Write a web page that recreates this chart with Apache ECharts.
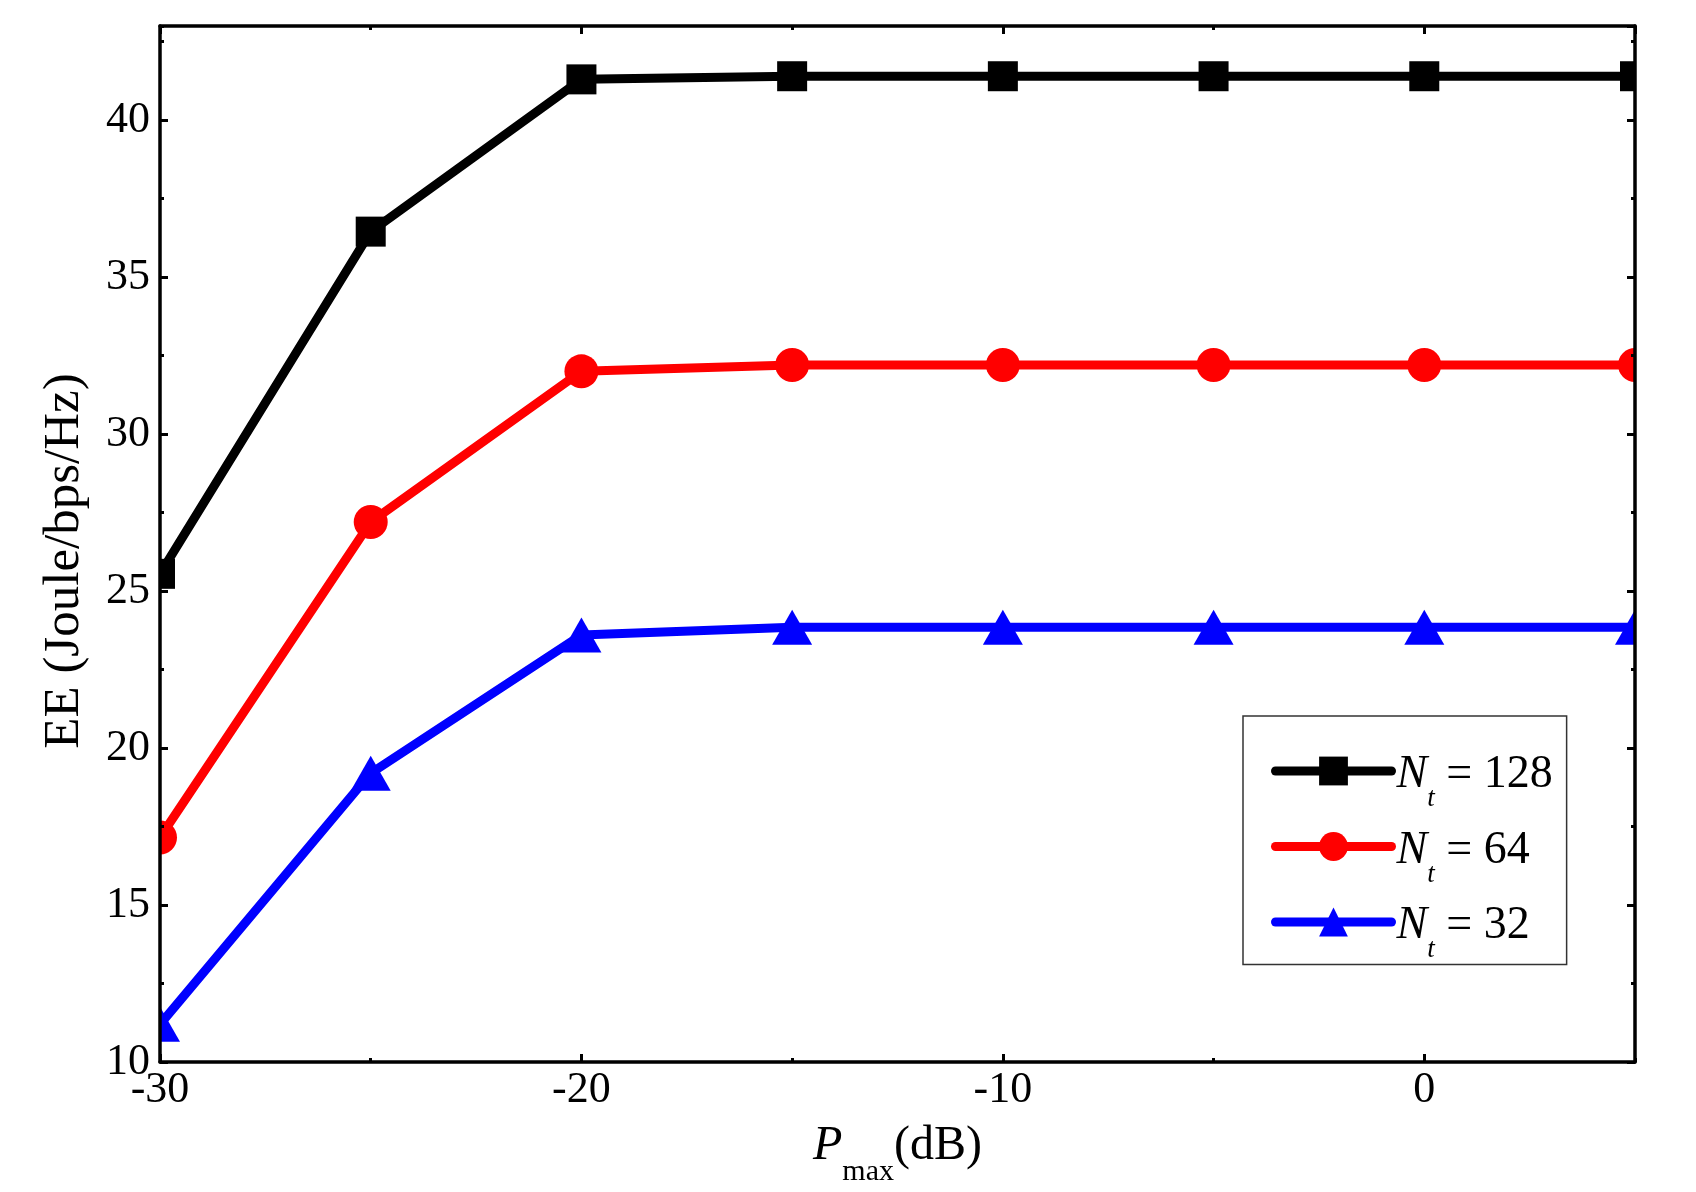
<!DOCTYPE html>
<html>
<head>
<meta charset="utf-8">
<script src="https://cdn.jsdelivr.net/npm/echarts@6/dist/echarts.min.js"></script>
<style>
  html, body { margin: 0; padding: 0; background: #fff; }
  #container { width: 1696px; height: 1192px; }
</style>
</head>
<body>
<div id="container"></div>
<script>
// P_max values (dB)
var pmax = [-30, -25, -20, -15, -10, -5, 0, 5];
// EE for each antenna count
var ee128 = [25.55, 36.45, 41.3, 41.4, 41.4, 41.4, 41.4, 41.4];
var ee64 = [17.15, 27.2, 32.0, 32.2, 32.2, 32.2, 32.2, 32.2];
var ee32 = [11.2, 19.2, 23.6, 23.85, 23.85, 23.85, 23.85, 23.85];
var ntValues = [128, 64, 32];
var seriesNames = ['Nt = 128', 'Nt = 64', 'Nt = 32'];

var font = "'Liberation Serif', 'Times New Roman', serif";
var gridLeft = 160, gridRight = 61, gridTop = 26, gridBottom = 130;
var W = 1696, H = 1192;

function pairs(xs, ys) {
    var data = [];
    for (var i = 0; i < xs.length; i++) {
        data.push([xs[i], ys[i]]);
    }
    return data;
}

function xAxisDef(position, interval, tickLen, labels) {
    return {
        type: 'value', position: position, min: -30, max: 5, interval: interval,
        z: 50,
        axisLine: { show: labels !== null, onZero: false, lineStyle: { color: '#000', width: 3.5 } },
        axisTick: { show: true, inside: true, length: tickLen, lineStyle: { color: '#000', width: 3 } },
        axisLabel: labels ? labels : { show: false },
        splitLine: { show: false }
    };
}
function yAxisDef(position, interval, tickLen, labels) {
    return {
        type: 'value', position: position, min: 10, max: 43, interval: interval,
        z: 50,
        axisLine: { show: labels !== null, onZero: false, lineStyle: { color: '#000', width: 3.5 } },
        axisTick: { show: true, inside: true, length: tickLen, lineStyle: { color: '#000', width: 3 } },
        axisLabel: labels ? labels : { show: false },
        splitLine: { show: false }
    };
}

var xMain = xAxisDef('bottom', 10, 8, {
    show: true, showMaxLabel: false, margin: 6,
    color: '#000', fontFamily: font, fontSize: 44
});
xMain.name = '{p|P}{s|max}{d|(dB)}';
xMain.nameLocation = 'middle';
xMain.nameGap = 43;
xMain.nameTextStyle = {
    color: '#000', fontFamily: font, fontSize: 48,
    rich: {
        p: { fontFamily: font, fontSize: 48, fontStyle: 'italic', color: '#000' },
        s: { fontFamily: font, fontSize: 30, color: '#000', padding: [52, 0, 0, 0] },
        d: { fontFamily: font, fontSize: 48, color: '#000' }
    }
};

var yMain = yAxisDef('left', 5, 8, {
    show: true, showMaxLabel: false, margin: 10,
    color: '#000', fontFamily: font, fontSize: 44
});
yMain.name = 'EE (Joule/bps/Hz)';
yMain.nameLocation = 'middle';
yMain.nameGap = 70;
yMain.nameTextStyle = { color: '#000', fontFamily: font, fontSize: 51, padding: [0, 34, 0, 0] };

var xTop = xAxisDef('top', 10, 8, { show: false });
var yRight = yAxisDef('right', 5, 8, { show: false });

var myChart = echarts.init(document.getElementById('container'));

var option = {
    backgroundColor: '#fff',
    animation: false,
    grid: { left: gridLeft, right: gridRight, top: gridTop, bottom: gridBottom },
    xAxis: [
        xMain,
        xAxisDef('bottom', 5, 4, null),
        xTop,
        xAxisDef('top', 5, 4, null)
    ],
    yAxis: [
        yMain,
        yAxisDef('left', 2.5, 4, null),
        yRight,
        yAxisDef('right', 2.5, 4, null)
    ],
    legend: {
        data: seriesNames,
        orient: 'vertical',
        left: 1243,
        top: 716,
        itemWidth: 116,
        itemHeight: 36,
        itemGap: 15,
        padding: [36, 14, 1, 28],
        borderColor: '#333',
        borderWidth: 1.5,
        backgroundColor: '#fff',
        lineStyle: { width: 9, cap: 'round' },
        formatter: function (name) {
            var i = seriesNames.indexOf(name);
            return '{n|N}{t|t}{v| = ' + ntValues[i] + '}';
        },
        textStyle: {
            color: '#000', fontFamily: font, fontSize: 46,
            rich: {
                n: { fontFamily: font, fontSize: 46, fontStyle: 'italic', color: '#000', padding: [8, 0, 0, 0] },
                t: { fontFamily: font, fontSize: 27, fontStyle: 'italic', color: '#000', padding: [56, 0, 0, 0] },
                v: { fontFamily: font, fontSize: 46, color: '#000', padding: [8, 0, 0, 0] }
            }
        }
    },
    graphic: [
        // white masks so markers on the frame are cut like the original
        { type: 'rect', left: 0, top: 0, z: 40, silent: true, shape: { width: gridLeft, height: H }, style: { fill: '#fff' } },
        { type: 'rect', left: W - gridRight, top: 0, z: 40, silent: true, shape: { width: gridRight, height: H }, style: { fill: '#fff' } },
        { type: 'rect', left: 0, top: 0, z: 40, silent: true, shape: { width: W, height: gridTop }, style: { fill: '#fff' } },
        { type: 'rect', left: 0, top: H - gridBottom, z: 40, silent: true, shape: { width: W, height: gridBottom }, style: { fill: '#fff' } }
    ],
    series: [{
        name: seriesNames[0],
        type: 'line',
        data: pairs(pmax, ee128),
        symbol: 'rect',
        symbolSize: 30,
        lineStyle: { color: '#000', width: 9 },
        itemStyle: { color: '#000' }
    }, {
        name: seriesNames[1],
        type: 'line',
        data: pairs(pmax, ee64),
        symbol: 'circle',
        symbolSize: 34,
        lineStyle: { color: '#ff0000', width: 9 },
        itemStyle: { color: '#ff0000' }
    }, {
        name: seriesNames[2],
        type: 'line',
        data: pairs(pmax, ee32),
        symbol: 'triangle',
        symbolSize: [40, 35],
        lineStyle: { color: '#0000ff', width: 9 },
        itemStyle: { color: '#0000ff' }
    }]
};
myChart.setOption(option);
</script>
</body>
</html>
